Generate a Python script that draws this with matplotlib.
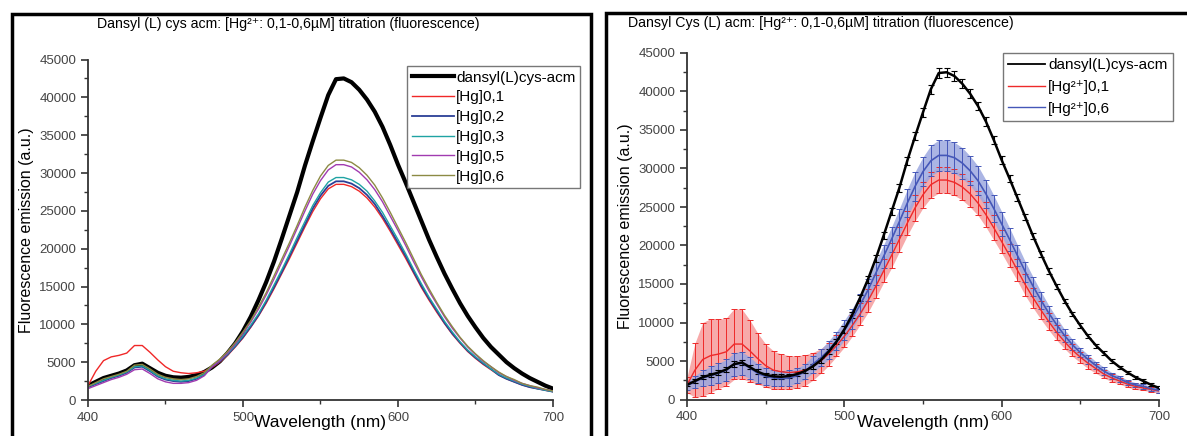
import numpy as np
import matplotlib
matplotlib.use("Agg")
from matplotlib import pyplot as plt
from matplotlib.patches import Rectangle
from matplotlib.lines import Line2D

plt.rcParams['font.family'] = ['Liberation Sans', 'DejaVu Sans']

# longitud de onda (nm), paso de 5 nm
wl = list(range(400, 701, 5))

# dansyl(L)cys-acm
dansyl = [1900, 2400, 2900, 3200, 3500, 3900, 4600, 4800, 4200, 3600,
          3200, 3000, 2950, 3050, 3300, 3700, 4300, 5100, 6200, 7500,
          9100, 11000, 13200, 15600, 18300, 21300, 24400, 27500, 31000, 34200,
          37300, 40300, 42400, 42500, 42000, 41000, 39700, 38100, 36100, 33700,
          31100, 28700, 26200, 23700, 21200, 18900, 16700, 14700, 12800, 11100,
          9600, 8200, 7000, 6000, 5000, 4200, 3500, 2900, 2400, 1900, 1500]

hg01 = [1900, 3800, 5200, 5700, 5900, 6200, 7200, 7200, 6300, 5300,
        4400, 3800, 3600, 3500, 3600, 3800, 4300, 5000, 5900, 7000,
        8200, 9600, 11100, 12800, 14700, 16700, 18700, 20800, 22900, 24900,
        26600, 27900, 28500, 28500, 28200, 27600, 26700, 25500, 24000, 22300,
        20500, 18700, 16800, 14900, 13200, 11600, 10100, 8700, 7500, 6400,
        5500, 4700, 4000, 3300, 2800, 2400, 2000, 1700, 1500, 1300, 1100]

hg02 = [1700, 2100, 2500, 2900, 3200, 3600, 4300, 4400, 3800, 3100,
        2700, 2500, 2400, 2500, 2800, 3300, 4400, 5100, 6000, 7100,
        8300, 9700, 11200, 13000, 14900, 16900, 19000, 21100, 23200, 25300,
        27000, 28300, 28900, 28900, 28600, 28000, 27100, 25900, 24300, 22600,
        20800, 19000, 17000, 15100, 13400, 11800, 10200, 8800, 7600, 6500,
        5600, 4800, 4100, 3300, 2800, 2400, 2000, 1700, 1500, 1300, 1100]

hg03 = [1800, 2200, 2600, 3000, 3300, 3700, 4400, 4500, 3900, 3200,
        2800, 2600, 2500, 2600, 2900, 3400, 4500, 5200, 6100, 7200,
        8500, 9900, 11400, 13200, 15200, 17200, 19300, 21500, 23600, 25700,
        27400, 28800, 29400, 29400, 29100, 28500, 27600, 26300, 24800, 23000,
        21200, 19300, 17300, 15400, 13600, 12000, 10400, 9000, 7700, 6600,
        5700, 4900, 4100, 3400, 2900, 2500, 2100, 1800, 1500, 1300, 1100]

hg05 = [1500, 1900, 2300, 2700, 3000, 3400, 4000, 4100, 3500, 2800,
        2400, 2200, 2200, 2300, 2600, 3200, 4400, 5200, 6200, 7400,
        8800, 10300, 12000, 13900, 16000, 18200, 20400, 22700, 25000, 27200,
        29000, 30400, 31100, 31100, 30800, 30100, 29100, 27800, 26200, 24300,
        22400, 20400, 18300, 16300, 14400, 12700, 11000, 9500, 8200, 7000,
        6000, 5100, 4400, 3600, 3100, 2600, 2200, 1900, 1600, 1400, 1200]

hg06 = [1800, 2300, 2800, 3100, 3400, 3800, 4600, 4700, 4100, 3400,
        3000, 2800, 2700, 2800, 3100, 3600, 4600, 5400, 6400, 7600,
        9000, 10500, 12300, 14200, 16400, 18600, 20800, 23100, 25500, 27700,
        29600, 31000, 31700, 31700, 31400, 30700, 29700, 28400, 26700, 24800,
        22800, 20800, 18700, 16600, 14700, 12900, 11200, 9700, 8300, 7100,
        6100, 5200, 4400, 3700, 3100, 2700, 2200, 1900, 1700, 1400, 1200]

# desviaciones (panel derecho)
err_dansyl = [200, 250, 300, 300, 300, 300, 350, 350, 300, 300,
              300, 300, 300, 300, 300, 300, 300, 300, 350, 350,
              400, 400, 400, 450, 450, 500, 500, 500, 550, 550,
              600, 600, 600, 600, 600, 600, 600, 550, 550, 550,
              500, 500, 450, 450, 400, 400, 350, 350, 300, 300,
              300, 250, 250, 250, 200, 200, 200, 200, 200, 200, 200]

err_hg01 = [1000, 3500, 4800, 4800, 4500, 4400, 4600, 4500, 4000, 3300,
            2800, 2500, 2300, 2200, 2100, 2000, 1800, 1600, 1500, 1400,
            1400, 1400, 1400, 1500, 1500, 1500, 1600, 1600, 1600, 1700,
            1700, 1700, 1700, 1700, 1700, 1700, 1700, 1600, 1600, 1600,
            1500, 1500, 1400, 1400, 1300, 1200, 1100, 1000, 900, 800,
            700, 700, 600, 500, 500, 400, 400, 400, 300, 300, 300]

err_hg06 = [600, 800, 1000, 1200, 1300, 1400, 1500, 1500, 1400, 1200,
            1100, 1000, 1000, 1000, 1000, 1000, 1100, 1100, 1200, 1200,
            1300, 1300, 1400, 1400, 1500, 1500, 1600, 1700, 1800, 1900,
            1900, 2000, 2000, 2000, 2000, 2000, 1900, 1900, 1800, 1700,
            1600, 1500, 1400, 1300, 1200, 1100, 1000, 900, 800, 700,
            600, 600, 500, 500, 400, 400, 300, 300, 300, 300, 300]

W, H = 1187, 436
fig = plt.figure(figsize=(W / 100, H / 100), dpi=100)

# marcos de cada panel
fig.patches.append(Rectangle((12 / W, -0.05), (591 - 12) / W, (H - 14) / H + 0.05,
                             transform=fig.transFigure, fill=False, lw=2.5, ec='black'))
fig.patches.append(Rectangle((606 / W, -0.05), (W + 20 - 606) / W, (H - 13) / H + 0.05,
                             transform=fig.transFigure, fill=False, lw=2.5, ec='black'))

ax1 = fig.add_axes([88 / W, 36 / H, 465 / W, 340.5 / H])
ax2 = fig.add_axes([687 / W, 36.5 / H, 472 / W, 346.5 / H])


def estilo(ax):
    for s in ['top', 'right']:
        ax.spines[s].set_visible(False)
    for s in ['left', 'bottom']:
        ax.spines[s].set_linewidth(1.3)
        ax.spines[s].set_color('#333333')
    ax.set_xlim(400, 700)
    ax.set_ylim(0, 45000)
    ax.set_xticks([400, 500, 600, 700])
    ax.set_xticks([450, 550, 650], minor=True)
    ax.set_yticks(range(0, 45001, 5000))
    ax.set_yticks(range(2500, 45000, 5000), minor=True)
    ax.tick_params(which='major', length=5, width=1.2, color='#333333',
                   labelsize=9.5, labelcolor='#444444')
    ax.tick_params(which='minor', length=3, width=1.0, color='#333333')
    ax.set_xlabel('Wavelength (nm)', fontsize=12.5, labelpad=-6)
    ax.set_ylabel('Fluorescence emission (a.u.)', fontsize=11.5, labelpad=4)


# panel izquierdo
ax1.plot(wl, dansyl, color='black', lw=3, label='dansyl(L)cys-acm')
ax1.plot(wl, hg01, color='#f02828', lw=1, label='[Hg]0,1')
ax1.plot(wl, hg02, color='#2b3f96', lw=1.3, label='[Hg]0,2')
ax1.plot(wl, hg03, color='#1fa3a3', lw=1, label='[Hg]0,3')
ax1.plot(wl, hg05, color='#a13bb0', lw=1, label='[Hg]0,5')
ax1.plot(wl, hg06, color='#8c8a44', lw=1, label='[Hg]0,6')
estilo(ax1)
ax1.legend(loc='upper left', bbox_to_anchor=(319 / 465, 0.981), fontsize=11,
           frameon=True, fancybox=False, edgecolor='#555555', handlelength=2.75,
           handletextpad=0.15, labelspacing=0.38, borderpad=0.3, borderaxespad=0)
fig.text(288 / W, 1 - 24 / H, 'Dansyl (L) cys acm: [Hg\u00b2\u207a: 0,1-0,6\u00b5M] titration (fluorescence)',
         ha='center', va='center', fontsize=10.2)

# panel derecho con barras de error
x = np.array(wl)
ax2.fill_between(x, np.array(hg01) - err_hg01, np.array(hg01) + err_hg01,
                 color='#f59595', lw=0, alpha=0.8)
ax2.errorbar(x, hg01, yerr=err_hg01, color='#ee2a2a', lw=1, elinewidth=0.7,
             capsize=2.5, capthick=0.7)
ax2.fill_between(x, np.array(hg06) - err_hg06, np.array(hg06) + err_hg06,
                 color='#9ca8e0', lw=0, alpha=0.85)
ax2.errorbar(x, hg06, yerr=err_hg06, color='#4557b8', lw=1.2, elinewidth=0.7,
             capsize=2.5, capthick=0.7)
ax2.errorbar(x, dansyl, yerr=err_dansyl, color='black', lw=1.8, elinewidth=0.8,
             capsize=2, capthick=0.8)
estilo(ax2)
manejadores = [Line2D([], [], color='black', lw=1.3),
               Line2D([], [], color='#ee2a2a', lw=1),
               Line2D([], [], color='#4557b8', lw=1)]
ax2.legend(manejadores, ['dansyl(L)cys-acm', '[Hg\u00b2\u207a]0,1', '[Hg\u00b2\u207a]0,6'],
           loc='upper left', bbox_to_anchor=(316 / 472, 1.0), fontsize=11, frameon=True,
           fancybox=False, edgecolor='#555555', handlelength=2.4,
           handletextpad=0.2, labelspacing=0.5, borderpad=0.35, borderaxespad=0)
fig.text(628 / W, 1 - 23 / H, 'Dansyl Cys (L) acm: [Hg\u00b2\u207a: 0,1-0,6\u00b5M] titration (fluorescence)',
         ha='left', va='center', fontsize=10.2)

fig.savefig('out.png', dpi=100)
